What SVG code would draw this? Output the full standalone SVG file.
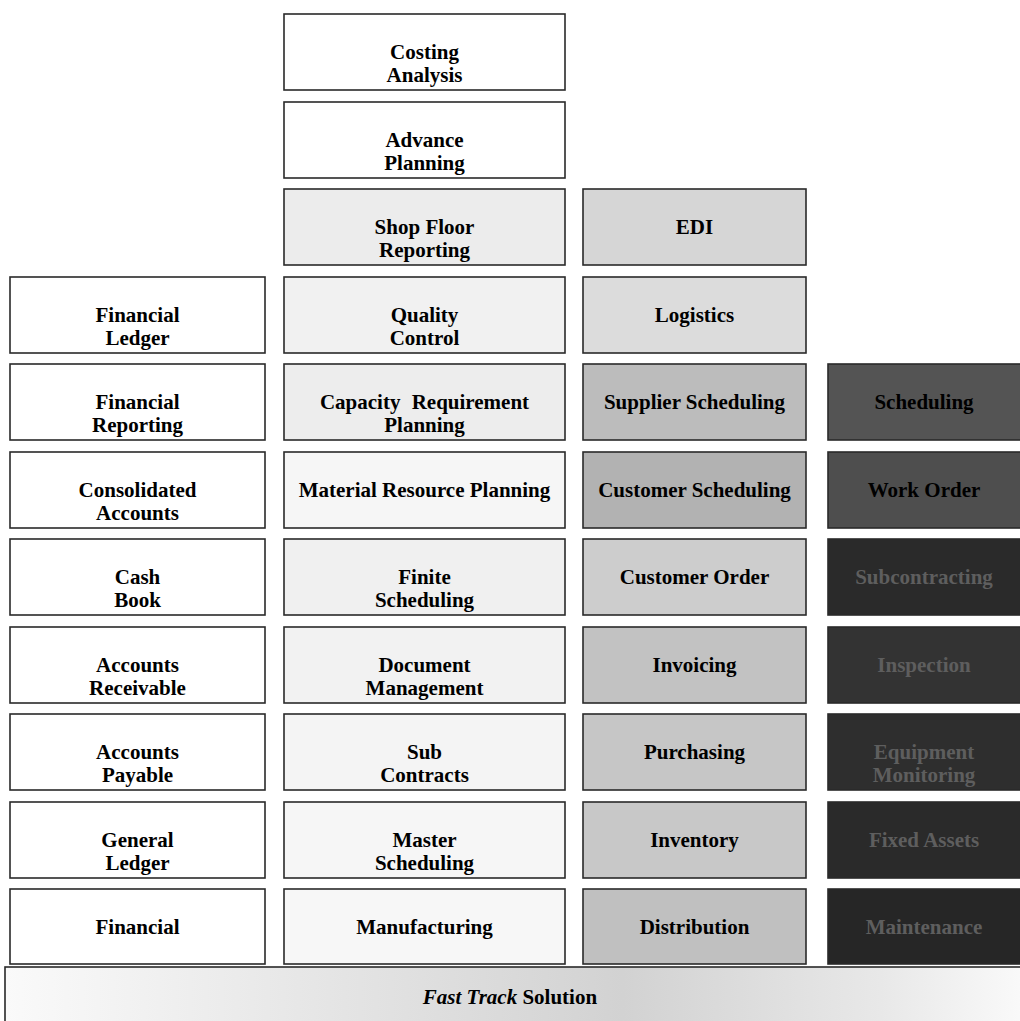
<svg xmlns="http://www.w3.org/2000/svg" width="1020" height="1021" viewBox="0 0 1020 1021">
<style>
.b{stroke:#2a2a2a;stroke-width:1.6}
.t{font-family:"Liberation Serif","Times New Roman",serif;font-weight:bold;font-size:21px;text-anchor:middle;fill:#000}
.d{fill:#5e5e5e}
</style>
<defs>
<linearGradient id="base" x1="0" y1="0" x2="1" y2="0">
<stop offset="0" stop-color="#fafafa"/>
<stop offset="0.3" stop-color="#e6e6e6"/>
<stop offset="0.6" stop-color="#d2d2d2"/>
<stop offset="0.85" stop-color="#e8e8e8"/>
<stop offset="1" stop-color="#fbfbfb"/>
</linearGradient>
</defs>
<rect width="1020" height="1021" fill="#fff"/>
<g id="connectors"/>
<!-- Column 1 -->
<g id="financial-ledger"><rect class="b" x="10" y="277" width="255" height="76" fill="#fff"/><text class="t" x="137.5" y="322">Financial</text><text class="t" x="137.5" y="345">Ledger</text></g>
<g id="financial-reporting"><rect class="b" x="10" y="364" width="255" height="76" fill="#fff"/><text class="t" x="137.5" y="409">Financial</text><text class="t" x="137.5" y="432">Reporting</text></g>
<g id="consolidated-accounts"><rect class="b" x="10" y="452" width="255" height="76" fill="#fff"/><text class="t" x="137.5" y="497">Consolidated</text><text class="t" x="137.5" y="520">Accounts</text></g>
<g id="cash-book"><rect class="b" x="10" y="539" width="255" height="76" fill="#fff"/><text class="t" x="137.5" y="584">Cash</text><text class="t" x="137.5" y="607">Book</text></g>
<g id="accounts-receivable"><rect class="b" x="10" y="627" width="255" height="76" fill="#fff"/><text class="t" x="137.5" y="672">Accounts</text><text class="t" x="137.5" y="695">Receivable</text></g>
<g id="accounts-payable"><rect class="b" x="10" y="714" width="255" height="76" fill="#fff"/><text class="t" x="137.5" y="759">Accounts</text><text class="t" x="137.5" y="782">Payable</text></g>
<g id="general-ledger"><rect class="b" x="10" y="802" width="255" height="76" fill="#fff"/><text class="t" x="137.5" y="847">General</text><text class="t" x="137.5" y="870">Ledger</text></g>
<g id="financial"><rect class="b" x="10" y="889" width="255" height="75" fill="#fff"/><text class="t" x="137.5" y="934">Financial</text></g>
<!-- Column 2 -->
<g id="costing-analysis"><rect class="b" x="284" y="14" width="281" height="76" fill="#fff"/><text class="t" x="424.5" y="59">Costing</text><text class="t" x="424.5" y="82">Analysis</text></g>
<g id="advance-planning"><rect class="b" x="284" y="102" width="281" height="76" fill="#fff"/><text class="t" x="424.5" y="147">Advance</text><text class="t" x="424.5" y="170">Planning</text></g>
<g id="shop-floor-reporting"><rect class="b" x="284" y="189" width="281" height="76" fill="#ececec"/><text class="t" x="424.5" y="234">Shop Floor</text><text class="t" x="424.5" y="257">Reporting</text></g>
<g id="quality-control"><rect class="b" x="284" y="277" width="281" height="76" fill="#f1f1f1"/><text class="t" x="424.5" y="322">Quality</text><text class="t" x="424.5" y="345">Control</text></g>
<g id="capacity-requirement-planning"><rect class="b" x="284" y="364" width="281" height="76" fill="#ededed"/><text class="t" x="424.5" y="409" word-spacing="6">Capacity Requirement</text><text class="t" x="424.5" y="432">Planning</text></g>
<g id="material-resource-planning"><rect class="b" x="284" y="452" width="281" height="76" fill="#f6f6f6"/><text class="t" x="424.5" y="497">Material Resource Planning</text></g>
<g id="finite-scheduling"><rect class="b" x="284" y="539" width="281" height="76" fill="#f0f0f0"/><text class="t" x="424.5" y="584">Finite</text><text class="t" x="424.5" y="607">Scheduling</text></g>
<g id="document-management"><rect class="b" x="284" y="627" width="281" height="76" fill="#f2f2f2"/><text class="t" x="424.5" y="672">Document</text><text class="t" x="424.5" y="695">Management</text></g>
<g id="sub-contracts"><rect class="b" x="284" y="714" width="281" height="76" fill="#f4f4f4"/><text class="t" x="424.5" y="759">Sub</text><text class="t" x="424.5" y="782">Contracts</text></g>
<g id="master-scheduling"><rect class="b" x="284" y="802" width="281" height="76" fill="#f6f6f6"/><text class="t" x="424.5" y="847">Master</text><text class="t" x="424.5" y="870">Scheduling</text></g>
<g id="manufacturing"><rect class="b" x="284" y="889" width="281" height="75" fill="#f7f7f7"/><text class="t" x="424.5" y="934">Manufacturing</text></g>
<!-- Column 3 -->
<g id="edi"><rect class="b" x="583" y="189" width="223" height="76" fill="#d6d6d6"/><text class="t" x="694.5" y="234">EDI</text></g>
<g id="logistics"><rect class="b" x="583" y="277" width="223" height="76" fill="#dcdcdc"/><text class="t" x="694.5" y="322">Logistics</text></g>
<g id="supplier-scheduling"><rect class="b" x="583" y="364" width="223" height="76" fill="#bcbcbc"/><text class="t" x="694.5" y="409">Supplier Scheduling</text></g>
<g id="customer-scheduling"><rect class="b" x="583" y="452" width="223" height="76" fill="#b2b2b2"/><text class="t" x="694.5" y="497">Customer Scheduling</text></g>
<g id="customer-order"><rect class="b" x="583" y="539" width="223" height="76" fill="#cdcdcd"/><text class="t" x="694.5" y="584">Customer Order</text></g>
<g id="invoicing"><rect class="b" x="583" y="627" width="223" height="76" fill="#c2c2c2"/><text class="t" x="694.5" y="672">Invoicing</text></g>
<g id="purchasing"><rect class="b" x="583" y="714" width="223" height="76" fill="#c6c6c6"/><text class="t" x="694.5" y="759">Purchasing</text></g>
<g id="inventory"><rect class="b" x="583" y="802" width="223" height="76" fill="#c8c8c8"/><text class="t" x="694.5" y="847">Inventory</text></g>
<g id="distribution"><rect class="b" x="583" y="889" width="223" height="75" fill="#c0c0c0"/><text class="t" x="694.5" y="934">Distribution</text></g>
<!-- Column 4 -->
<g id="scheduling"><rect class="b" x="828" y="364" width="200" height="76" fill="#545454"/><text class="t" x="924" y="409">Scheduling</text></g>
<g id="work-order"><rect class="b" x="828" y="452" width="200" height="76" fill="#4e4e4e"/><text class="t" x="924" y="497">Work Order</text></g>
<g id="subcontracting"><rect class="b" x="828" y="539" width="200" height="76" fill="#2a2a2a"/><text class="t d" x="924" y="584">Subcontracting</text></g>
<g id="inspection"><rect class="b" x="828" y="627" width="200" height="76" fill="#333"/><text class="t d" x="924" y="672">Inspection</text></g>
<g id="equipment-monitoring"><rect class="b" x="828" y="714" width="200" height="76" fill="#2e2e2e"/><text class="t d" x="924" y="759">Equipment</text><text class="t d" x="924" y="782">Monitoring</text></g>
<g id="fixed-assets"><rect class="b" x="828" y="802" width="200" height="76" fill="#2a2a2a"/><text class="t d" x="924" y="847">Fixed Assets</text></g>
<g id="maintenance"><rect class="b" x="828" y="889" width="200" height="75" fill="#262626"/><text class="t d" x="924" y="934">Maintenance</text></g>
<!-- Base -->
<g id="fast-track-solution"><rect class="b" x="5" y="967" width="1030" height="60" fill="url(#base)"/><text class="t" x="510" y="1004"><tspan font-style="italic">Fast Track</tspan> Solution</text></g>
</svg>
